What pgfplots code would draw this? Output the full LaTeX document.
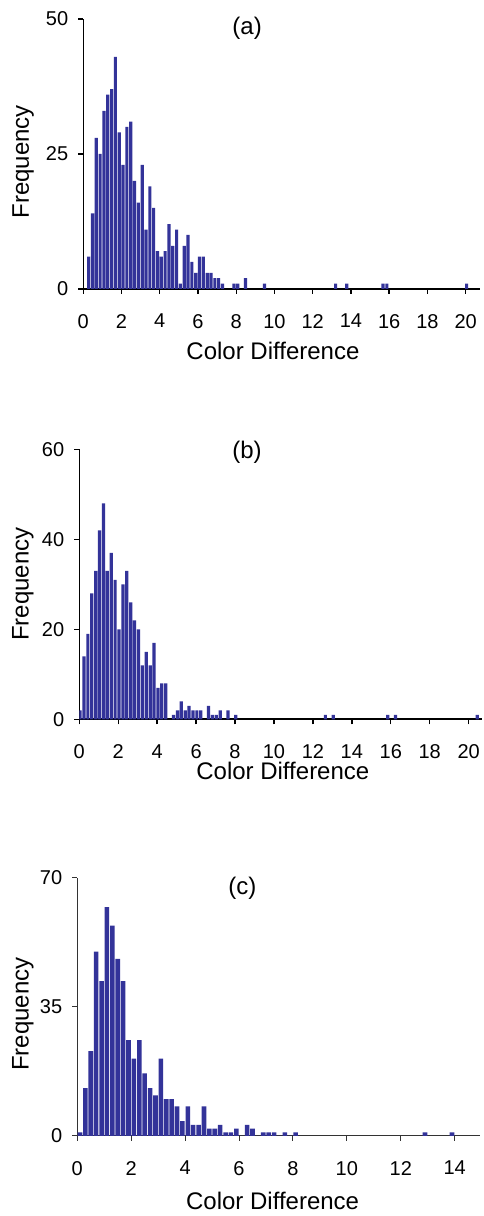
\documentclass[border=0pt]{standalone}
\usepackage{fontspec}
\setmainfont{Liberation Sans}
\usepackage{pgfplots}
\pgfplotsset{compat=1.18}
\definecolor{barblue}{RGB}{51,51,153}
\pgfplotsset{
  every axis title shift=0pt,
  hist/.style={
    scale only axis,
    axis x line=bottom, axis y line=left,
    axis line style={-, line width=0.8pt, black},
    tick align=outside, major tick length=2.5pt,
    tick style={line width=0.7pt, black},
    /pgf/number format/assume math mode=true,
    tick label style={font=\fontsize{10}{12}\selectfont},
    xticklabel style={yshift=-6.5pt},
    yticklabel style={xshift=-1.5pt},
    label style={font=\fontsize{12}{14}\selectfont},
    title style={font=\fontsize{12}{14}\selectfont, anchor=center},
    xlabel={Color Difference}, ylabel={Frequency},
    ymin=0, xmin=0,
    minor tick num=0,
    enlargelimits=false,
  },
  histbar/.style={ybar, bar shift=0pt, fill=barblue, draw=none, bar width=#1},
}
\begin{document}
\begin{tikzpicture}
\path[use as bounding box] (0,0) rectangle (241.5pt,608pt);
% ---------------- (a)
\begin{axis}[hist, at={(41.65pt,463.5pt)}, anchor=south west,
  width=198.35pt, height=135pt, xmax=20.75, ymax=50,
  xtick={0,2,...,20}, ytick={0,25,50},
  title={(a)}, title style={at={(axis description cs:0.413,0.967)}},
  xlabel style={at={(axis description cs:0.478,-0.23)}, anchor=center},
  ylabel style={at={(axis description cs:-0.152,0.471)}, anchor=center}]
\addplot[histbar=0.165] coordinates {
(0.28,6)(0.48,14)(0.68,28)(0.88,25)(1.08,33)(1.28,36)(1.48,37)(1.68,43)
(1.88,29)(2.08,23)(2.28,30)(2.48,31)(2.68,20)(2.88,16)(3.08,23)(3.28,11)
(3.48,19)(3.68,15)(3.88,7)(4.08,6)(4.28,7)(4.48,12)(4.68,8)(4.88,11)
(5.08,1)(5.28,8)(5.48,10)(5.68,5)(5.88,3)(6.08,6)(6.28,6)(6.48,3)
(6.68,3)(6.88,2)(7.08,2)(7.28,1)
(7.88,1)(8.08,1)(8.48,2)(9.48,1)(13.2,1)(13.78,1)(15.68,1)(15.88,1)(20.05,1)};
\end{axis}
% ---------------- (b)
\begin{axis}[hist, at={(39.65pt,248.35pt)}, anchor=south west,
  width=201.5pt, height=135pt, xmax=20.7, ymax=60,
  xtick={0,2,...,20}, ytick={0,20,40,60},
  title={(b)}, title style={at={(axis description cs:0.416,0.989)}},
  xlabel style={at={(axis description cs:0.505,-0.193)}, anchor=center},
  ylabel style={at={(axis description cs:-0.14,0.5)}, anchor=center}]
\addplot[histbar=0.165] coordinates {
(0.04,2)(0.24,14)(0.44,19)(0.64,28)(0.84,33)(1.04,42)(1.24,48)(1.44,33)
(1.64,37)(1.84,31)(2.04,20)(2.24,30)(2.44,33)(2.64,26)(2.84,22)(3.04,20)
(3.24,12)(3.44,15)(3.64,12)(3.84,17)(4.04,7)(4.24,8)(4.44,8)(4.64,0)
(4.84,1)(5.04,2)(5.24,4)(5.44,2)(5.64,3)(5.84,2)(6.04,2)(6.24,2)
(6.44,0)(6.64,3)(6.84,1)(7.04,1)(7.24,2)(7.44,0)(7.64,2)(7.84,0)(8.04,1)
(12.64,1)(13.04,1)(15.84,1)(16.24,1)(20.44,1)};
\end{axis}
% ---------------- (c)
\begin{axis}[hist, at={(38.65pt,40pt)}, anchor=south west,
  width=201.35pt, height=129.15pt, xmax=14.94, ymax=70,
  axis line style={-, line width=0.5pt, black!80},
  tick style={line width=0.5pt, black!80},
  xtick={0,2,...,14}, ytick={0,35,70},
  title={(c)}, title style={at={(axis description cs:0.41,0.959)}},
  xlabel style={at={(axis description cs:0.485,-0.252)}, anchor=center},
  ylabel style={at={(axis description cs:-0.135,0.472)}, anchor=center}]
\addplot[histbar=0.17] coordinates {
(0.1,1)(0.3,13)(0.5,23)(0.7,50)(0.9,42)(1.1,62)(1.3,57)(1.5,48)
(1.7,42)(1.9,26)(2.1,21)(2.3,26)(2.5,17)(2.7,13)(2.9,11)(3.1,21)
(3.3,10)(3.5,10)(3.7,8)(3.9,4)(4.1,8)(4.3,3)(4.5,3)(4.7,8)
(4.9,2)(5.1,2)(5.3,3)(5.5,1)(5.7,1)(5.9,2)(6.1,0)(6.3,3)
(6.5,2)(6.7,0)(6.9,1)(7.1,1)(7.3,1)(7.5,0)(7.7,1)(7.9,0)(8.1,1)
(12.9,1)(13.9,1)};
\end{axis}
\end{tikzpicture}
\end{document}
